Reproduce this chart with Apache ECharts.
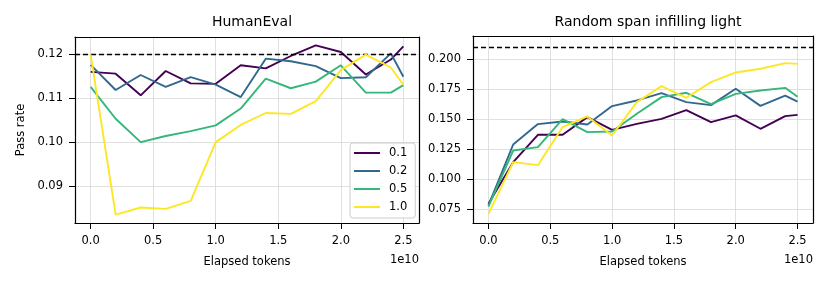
<!DOCTYPE html>
<html>
<head>
<meta charset="utf-8">
<script src="https://cdn.jsdelivr.net/npm/echarts@6/dist/echarts.min.js"></script>
<style>html,body{margin:0;padding:0;background:#fff}#c{width:831px;height:284px}</style>
</head>
<body>
<div id="c"></div>
<script>
// x positions in units of 1e10 tokens
const xTokens = [0, 0.2, 0.4, 0.6, 0.8, 1.0, 1.2, 1.4, 1.6, 1.8, 2.0, 2.2, 2.4, 2.5];
const seriesNames = ['0.1', '0.2', '0.5', '1.0'];
const colors = ['#440154', '#31688e', '#35b779', '#fde725'];

// HumanEval pass rate
const humanEval01 = [0.1159, 0.1155, 0.1106, 0.1161, 0.1133, 0.1132, 0.1174, 0.1167, 0.1195, 0.1219, 0.1204, 0.1153, 0.1187, 0.1217];
const humanEval02 = [0.1175, 0.1118, 0.1152, 0.1125, 0.1147, 0.1130, 0.1102, 0.1189, 0.1183, 0.1172, 0.1145, 0.1147, 0.1201, 0.1148];
const humanEval05 = [0.1125, 0.1053, 0.1000, 0.1014, 0.1025, 0.1038, 0.1076, 0.1144, 0.1122, 0.1137, 0.1174, 0.1112, 0.1112, 0.1129];
const humanEval10 = [0.1198, 0.0836, 0.0852, 0.0849, 0.0867, 0.1000, 0.1039, 0.1066, 0.1064, 0.1093, 0.1163, 0.1198, 0.1169, 0.1130];
const humanEvalRef = 0.1197;

// Random span infilling light pass rate
const rsil01 = [0.0792, 0.1139, 0.1367, 0.1367, 0.1514, 0.1408, 0.1458, 0.1500, 0.1572, 0.1472, 0.1528, 0.1417, 0.1522, 0.1533];
const rsil02 = [0.0778, 0.1286, 0.1456, 0.1478, 0.1453, 0.1606, 0.1653, 0.1714, 0.1639, 0.1614, 0.1750, 0.1608, 0.1694, 0.1644];
const rsil05 = [0.0769, 0.1236, 0.1264, 0.1497, 0.1389, 0.1394, 0.1542, 0.1681, 0.1717, 0.1622, 0.1708, 0.1736, 0.1758, 0.1683];
const rsil10 = [0.0708, 0.1139, 0.1114, 0.1431, 0.1520, 0.1361, 0.1639, 0.1772, 0.1675, 0.1806, 0.1886, 0.1917, 0.1964, 0.1958];
const rsilRef = 0.2122;

const xTicks = [0, 0.5, 1.0, 1.5, 2.0, 2.5];
const yTicksLeft = [0.09, 0.10, 0.11, 0.12];
const yTicksRight = [0.075, 0.100, 0.125, 0.150, 0.175, 0.200];

const FONT = 'DejaVu Sans';
const chart = echarts.init(document.getElementById('c'), null, {renderer: 'canvas'});

function pairs(ys) { return xTokens.map((x, i) => [x, ys[i]]); }

function xAxis(gridIndex) {
  return {
    type: 'value', gridIndex, min: -0.125, max: 2.625,
    name: 'Elapsed tokens', nameLocation: 'middle', nameGap: 33,
    nameTextStyle: {fontFamily: FONT, fontSize: 11.5, color: '#000'},
    axisLine: {show: true, onZero: false, lineStyle: {color: '#000', width: 1.2}},
    axisTick: {show: true, customValues: xTicks, length: 6, lineStyle: {color: '#000', width: 1}},
    axisLabel: {customValues: xTicks, margin: 12, fontFamily: FONT, fontSize: 11.5, color: '#000',
      formatter: v => v.toFixed(1)},
    splitLine: {show: true, lineStyle: {color: '#d8d8d8', width: 0.8}}
  };
}
function xFrame(gridIndex) {
  return {type: 'value', gridIndex, position: 'top', min: -0.125, max: 2.625,
    axisLine: {show: true, onZero: false, lineStyle: {color: '#000', width: 1.2}},
    axisTick: {show: false}, axisLabel: {show: false}, splitLine: {show: false}};
}
function yAxis(gridIndex, min, max, ticks, dec, name) {
  return {
    type: 'value', gridIndex, min, max,
    name: name || '', nameLocation: 'middle', nameGap: 48,
    nameTextStyle: {fontFamily: FONT, fontSize: 11.5, color: '#000'},
    axisLine: {show: true, onZero: false, lineStyle: {color: '#000', width: 1.2}},
    axisTick: {show: true, customValues: ticks, length: 6, lineStyle: {color: '#000', width: 1}},
    axisLabel: {customValues: ticks, margin: 12, fontFamily: FONT, fontSize: 11.5, color: '#000',
      formatter: v => v.toFixed(dec)},
    splitLine: {show: true, lineStyle: {color: '#d8d8d8', width: 0.8}}
  };
}
function yFrame(gridIndex, min, max) {
  return {type: 'value', gridIndex, position: 'right', min, max,
    axisLine: {show: true, onZero: false, lineStyle: {color: '#000', width: 1.2}},
    axisTick: {show: false}, axisLabel: {show: false}, splitLine: {show: false}};
}

const leftData = [humanEval01, humanEval02, humanEval05, humanEval10];
const rightData = [rsil01, rsil02, rsil05, rsil10];
const series = [];
function addSeries(dataSets, idx, ref) {
  dataSets.forEach((ys, i) => {
    series.push({
      type: 'line', name: seriesNames[i], xAxisIndex: idx, yAxisIndex: idx,
      data: pairs(ys), symbol: 'none', showSymbol: false,
      lineStyle: {color: colors[i], width: 1.9}, itemStyle: {color: colors[i]},
      z: 3 + i, animation: false
    });
  });
  series.push({
    type: 'line', name: 'ref' + idx, xAxisIndex: idx, yAxisIndex: idx, data: [],
    symbol: 'none', animation: false,
    markLine: {silent: true, symbol: ['none', 'none'], label: {show: false},
      lineStyle: {color: '#000', type: [5, 3], width: 1.4},
      data: [{yAxis: ref}], animation: false}
  });
}
addSeries(leftData, 0, humanEvalRef);
addSeries(rightData, 1, rsilRef);

chart.setOption({
  backgroundColor: '#fff',
  animation: false,
  title: [
    {text: 'HumanEval', left: 247, top: 10, textAlign: 'center',
      textStyle: {fontFamily: FONT, fontSize: 14, fontWeight: 'normal', color: '#000'}},
    {text: 'Random span infilling light', left: 643, top: 10, textAlign: 'center',
      textStyle: {fontFamily: FONT, fontSize: 14, fontWeight: 'normal', color: '#000'}}
  ],
  grid: [
    {left: 75, top: 37, width: 344, height: 186},
    {left: 473, top: 36, width: 340, height: 187}
  ],
  xAxis: [xAxis(0), xAxis(1), xFrame(0), xFrame(1)],
  yAxis: [
    yAxis(0, 0.0817, 0.1238, yTicksLeft, 2, 'Pass rate'),
    yAxis(1, 0.0632, 0.2190, yTicksRight, 3, ''),
    yFrame(0, 0.0817, 0.1238),
    yFrame(1, 0.0632, 0.2190)
  ],
  legend: {
    data: seriesNames, orient: 'vertical', left: 350, top: 143,
    icon: 'rect', itemWidth: 26, itemHeight: 2, itemGap: 4,
    padding: [3, 8, 4, 4],
    backgroundColor: 'rgba(255,255,255,0.85)', borderColor: '#cccccc', borderWidth: 1, borderRadius: 3,
    textStyle: {fontFamily: FONT, fontSize: 11.5, color: '#000', padding: [0, 0, 0, 4], lineHeight: 14},
    selectedMode: false
  },
  graphic: [
    {type: 'text', right: 831 - 419, top: 254, style: {text: '1e10', font: '11.5px "DejaVu Sans"', fill: '#000'}},
    {type: 'text', right: 831 - 813, top: 254, style: {text: '1e10', font: '11.5px "DejaVu Sans"', fill: '#000'}}
  ],
  series
});
</script>
</body>
</html>
